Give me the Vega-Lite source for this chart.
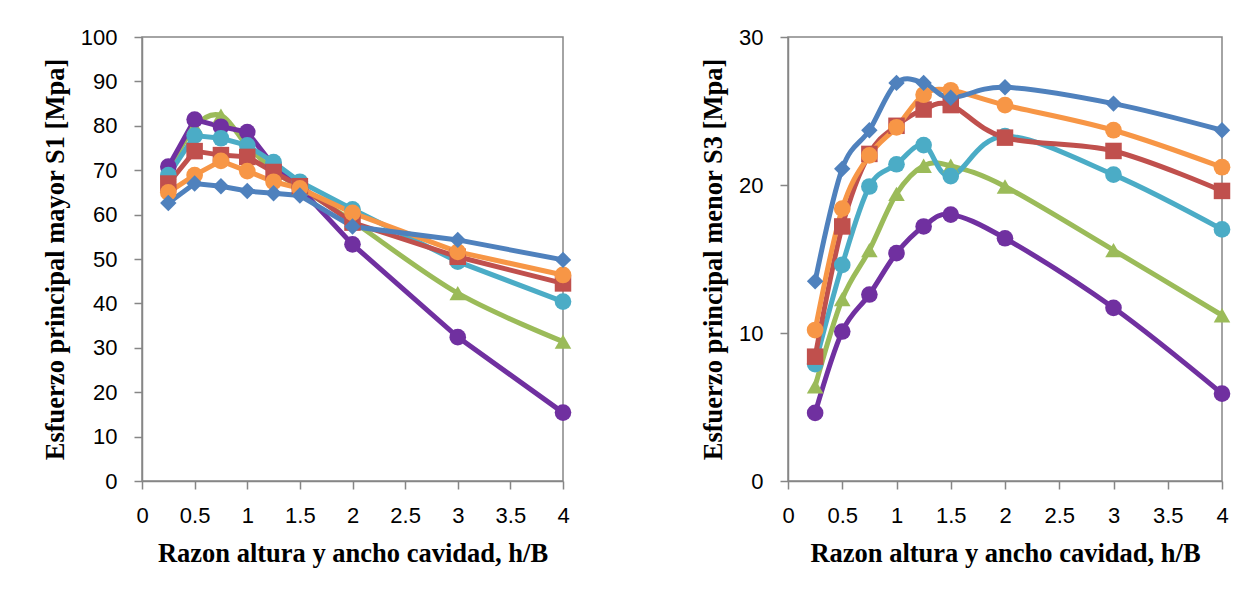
{
  "$schema": "https://vega.github.io/schema/vega-lite/v6.json",
  "background": "white",
  "padding": {"left": 41, "top": 25, "right": 0, "bottom": 0},
  "spacing": 125,
  "datasets": {
    "s1": [
      {"serie": "Serie 3", "hB": 0.25, "S1": 69.5}, {"serie": "Serie 3", "hB": 0.5, "S1": 79.8}, {"serie": "Serie 3", "hB": 0.75, "S1": 82.3}, {"serie": "Serie 3", "hB": 1, "S1": 75.5}, {"serie": "Serie 3", "hB": 1.25, "S1": 70.0}, {"serie": "Serie 3", "hB": 1.5, "S1": 66.0}, {"serie": "Serie 3", "hB": 2, "S1": 58.5}, {"serie": "Serie 3", "hB": 3, "S1": 42.3}, {"serie": "Serie 3", "hB": 4, "S1": 31.4},
      {"serie": "Serie 4", "hB": 0.25, "S1": 70.8}, {"serie": "Serie 4", "hB": 0.5, "S1": 81.4}, {"serie": "Serie 4", "hB": 0.75, "S1": 79.8}, {"serie": "Serie 4", "hB": 1, "S1": 78.6}, {"serie": "Serie 4", "hB": 1.25, "S1": 71.0}, {"serie": "Serie 4", "hB": 1.5, "S1": 66.0}, {"serie": "Serie 4", "hB": 2, "S1": 53.3}, {"serie": "Serie 4", "hB": 3, "S1": 32.4}, {"serie": "Serie 4", "hB": 4, "S1": 15.4},
      {"serie": "Serie 5", "hB": 0.25, "S1": 68.9}, {"serie": "Serie 5", "hB": 0.5, "S1": 77.8}, {"serie": "Serie 5", "hB": 0.75, "S1": 77.2}, {"serie": "Serie 5", "hB": 1, "S1": 75.6}, {"serie": "Serie 5", "hB": 1.25, "S1": 71.8}, {"serie": "Serie 5", "hB": 1.5, "S1": 67.4}, {"serie": "Serie 5", "hB": 2, "S1": 61.2}, {"serie": "Serie 5", "hB": 3, "S1": 49.4}, {"serie": "Serie 5", "hB": 4, "S1": 40.4},
      {"serie": "Serie 2", "hB": 0.25, "S1": 67.0}, {"serie": "Serie 2", "hB": 0.5, "S1": 74.3}, {"serie": "Serie 2", "hB": 0.75, "S1": 73.4}, {"serie": "Serie 2", "hB": 1, "S1": 73.0}, {"serie": "Serie 2", "hB": 1.25, "S1": 69.6}, {"serie": "Serie 2", "hB": 1.5, "S1": 66.4}, {"serie": "Serie 2", "hB": 2, "S1": 58.2}, {"serie": "Serie 2", "hB": 3, "S1": 50.5}, {"serie": "Serie 2", "hB": 4, "S1": 44.5},
      {"serie": "Serie 6", "hB": 0.25, "S1": 65.0}, {"serie": "Serie 6", "hB": 0.5, "S1": 68.9}, {"serie": "Serie 6", "hB": 0.75, "S1": 72.1}, {"serie": "Serie 6", "hB": 1, "S1": 69.8}, {"serie": "Serie 6", "hB": 1.25, "S1": 67.4}, {"serie": "Serie 6", "hB": 1.5, "S1": 65.9}, {"serie": "Serie 6", "hB": 2, "S1": 60.4}, {"serie": "Serie 6", "hB": 3, "S1": 51.6}, {"serie": "Serie 6", "hB": 4, "S1": 46.4},
      {"serie": "Serie 1", "hB": 0.25, "S1": 62.6}, {"serie": "Serie 1", "hB": 0.5, "S1": 67.0}, {"serie": "Serie 1", "hB": 0.75, "S1": 66.4}, {"serie": "Serie 1", "hB": 1, "S1": 65.3}, {"serie": "Serie 1", "hB": 1.25, "S1": 64.8}, {"serie": "Serie 1", "hB": 1.5, "S1": 64.3}, {"serie": "Serie 1", "hB": 2, "S1": 57.3}, {"serie": "Serie 1", "hB": 3, "S1": 54.3}, {"serie": "Serie 1", "hB": 4, "S1": 49.8}
    ],
    "s3": [
      {"serie": "Serie 3", "hB": 0.25, "S3": 6.4}, {"serie": "Serie 3", "hB": 0.5, "S3": 12.3}, {"serie": "Serie 3", "hB": 0.75, "S3": 15.6}, {"serie": "Serie 3", "hB": 1, "S3": 19.4}, {"serie": "Serie 3", "hB": 1.25, "S3": 21.3}, {"serie": "Serie 3", "hB": 1.5, "S3": 21.3}, {"serie": "Serie 3", "hB": 2, "S3": 19.9}, {"serie": "Serie 3", "hB": 3, "S3": 15.6}, {"serie": "Serie 3", "hB": 4, "S3": 11.2},
      {"serie": "Serie 4", "hB": 0.25, "S3": 4.6}, {"serie": "Serie 4", "hB": 0.5, "S3": 10.1}, {"serie": "Serie 4", "hB": 0.75, "S3": 12.6}, {"serie": "Serie 4", "hB": 1, "S3": 15.4}, {"serie": "Serie 4", "hB": 1.25, "S3": 17.2}, {"serie": "Serie 4", "hB": 1.5, "S3": 18.0}, {"serie": "Serie 4", "hB": 2, "S3": 16.4}, {"serie": "Serie 4", "hB": 3, "S3": 11.7}, {"serie": "Serie 4", "hB": 4, "S3": 5.9},
      {"serie": "Serie 5", "hB": 0.25, "S3": 7.9}, {"serie": "Serie 5", "hB": 0.5, "S3": 14.6}, {"serie": "Serie 5", "hB": 0.75, "S3": 19.9}, {"serie": "Serie 5", "hB": 1, "S3": 21.4}, {"serie": "Serie 5", "hB": 1.25, "S3": 22.7}, {"serie": "Serie 5", "hB": 1.5, "S3": 20.6}, {"serie": "Serie 5", "hB": 2, "S3": 23.3}, {"serie": "Serie 5", "hB": 3, "S3": 20.7}, {"serie": "Serie 5", "hB": 4, "S3": 17.0},
      {"serie": "Serie 2", "hB": 0.25, "S3": 8.4}, {"serie": "Serie 2", "hB": 0.5, "S3": 17.2}, {"serie": "Serie 2", "hB": 0.75, "S3": 22.1}, {"serie": "Serie 2", "hB": 1, "S3": 24.0}, {"serie": "Serie 2", "hB": 1.25, "S3": 25.1}, {"serie": "Serie 2", "hB": 1.5, "S3": 25.4}, {"serie": "Serie 2", "hB": 2, "S3": 23.2}, {"serie": "Serie 2", "hB": 3, "S3": 22.3}, {"serie": "Serie 2", "hB": 4, "S3": 19.6},
      {"serie": "Serie 6", "hB": 0.25, "S3": 10.2}, {"serie": "Serie 6", "hB": 0.5, "S3": 18.4}, {"serie": "Serie 6", "hB": 0.75, "S3": 22.0}, {"serie": "Serie 6", "hB": 1, "S3": 23.9}, {"serie": "Serie 6", "hB": 1.25, "S3": 26.1}, {"serie": "Serie 6", "hB": 1.5, "S3": 26.4}, {"serie": "Serie 6", "hB": 2, "S3": 25.4}, {"serie": "Serie 6", "hB": 3, "S3": 23.7}, {"serie": "Serie 6", "hB": 4, "S3": 21.2},
      {"serie": "Serie 1", "hB": 0.25, "S3": 13.5}, {"serie": "Serie 1", "hB": 0.5, "S3": 21.1}, {"serie": "Serie 1", "hB": 0.75, "S3": 23.7}, {"serie": "Serie 1", "hB": 1, "S3": 26.9}, {"serie": "Serie 1", "hB": 1.25, "S3": 26.9}, {"serie": "Serie 1", "hB": 1.5, "S3": 25.9}, {"serie": "Serie 1", "hB": 2, "S3": 26.6}, {"serie": "Serie 1", "hB": 3, "S3": 25.5}, {"serie": "Serie 1", "hB": 4, "S3": 23.7}
    ]
  },
  "config": {
    "view": {"stroke": "#868686", "strokeWidth": 1.5},
    "axis": {
      "grid": false,
      "domainColor": "#868686", "domainWidth": 1.5,
      "tickColor": "#868686", "tickWidth": 1.5, "tickSize": 8,
      "labelFont": "Liberation Sans", "labelFontSize": 22, "labelColor": "#000000",
      "titleFont": "Liberation Serif", "titleFontWeight": "bold", "titleFontSize": 26.5, "titleColor": "#000000"
    },
    "axisX": {"labelPadding": 16, "titlePadding": 14, "labelFlush": false},
    "axisY": {"labelPadding": 17, "titlePadding": 11}
  },
  "hconcat": [
    {
      "width": 421,
      "height": 444,
      "data": {"name": "s1"},
      "encoding": {
        "x": {"field": "hB", "type": "quantitative", "scale": {"domain": [0, 4], "nice": false, "zero": false},
              "axis": {"values": [0, 0.5, 1, 1.5, 2, 2.5, 3, 3.5, 4], "format": "~g", "title": "Razon altura y ancho cavidad, h/B"}},
        "y": {"field": "S1", "type": "quantitative", "scale": {"domain": [0, 100], "nice": false},
              "axis": {"values": [0, 10, 20, 30, 40, 50, 60, 70, 80, 90, 100], "title": "Esfuerzo principal mayor S1 [Mpa]"}},
        "color": {"field": "serie", "type": "nominal", "legend": null,
                  "scale": {"domain": ["Serie 1", "Serie 2", "Serie 3", "Serie 4", "Serie 5", "Serie 6"],
                            "range": ["#4F81BD", "#C0504D", "#9BBB59", "#7030A0", "#4BACC6", "#F79646"]}}
      },
      "layer": [
        {"transform": [{"filter": "datum.serie === 'Serie 3'"}], "mark": {"type": "line", "interpolate": "cardinal", "strokeWidth": 5}},
        {"transform": [{"filter": "datum.serie !== 'Serie 3'"}], "mark": {"type": "line", "strokeWidth": 5}},
        {"mark": {"type": "point", "filled": true, "opacity": 1},
         "encoding": {
           "shape": {"field": "serie", "type": "nominal", "legend": null,
                     "scale": {"domain": ["Serie 1", "Serie 2", "Serie 3", "Serie 4", "Serie 5", "Serie 6"],
                               "range": ["diamond", "square", "triangle-up", "circle", "circle", "circle"]}},
           "size": {"field": "serie", "type": "nominal", "legend": null,
                    "scale": {"domain": ["Serie 1", "Serie 2", "Serie 3", "Serie 4", "Serie 5", "Serie 6"],
                              "range": [270, 280, 330, 324, 324, 324]}}
         }}
      ]
    },
    {
      "width": 434,
      "height": 444,
      "data": {"name": "s3"},
      "encoding": {
        "x": {"field": "hB", "type": "quantitative", "scale": {"domain": [0, 4], "nice": false, "zero": false},
              "axis": {"values": [0, 0.5, 1, 1.5, 2, 2.5, 3, 3.5, 4], "format": "~g", "title": "Razon altura y ancho cavidad, h/B"}},
        "y": {"field": "S3", "type": "quantitative", "scale": {"domain": [0, 30], "nice": false},
              "axis": {"values": [0, 10, 20, 30], "title": "Esfuerzo principal menor S3 [Mpa]"}},
        "color": {"field": "serie", "type": "nominal", "legend": null,
                  "scale": {"domain": ["Serie 1", "Serie 2", "Serie 3", "Serie 4", "Serie 5", "Serie 6"],
                            "range": ["#4F81BD", "#C0504D", "#9BBB59", "#7030A0", "#4BACC6", "#F79646"]}}
      },
      "layer": [
        {"mark": {"type": "line", "interpolate": "cardinal", "strokeWidth": 5}},
        {"mark": {"type": "point", "filled": true, "opacity": 1},
         "encoding": {
           "shape": {"field": "serie", "type": "nominal", "legend": null,
                     "scale": {"domain": ["Serie 1", "Serie 2", "Serie 3", "Serie 4", "Serie 5", "Serie 6"],
                               "range": ["diamond", "square", "triangle-up", "circle", "circle", "circle"]}},
           "size": {"field": "serie", "type": "nominal", "legend": null,
                    "scale": {"domain": ["Serie 1", "Serie 2", "Serie 3", "Serie 4", "Serie 5", "Serie 6"],
                              "range": [270, 280, 330, 324, 324, 324]}}
         }}
      ]
    }
  ]
}
